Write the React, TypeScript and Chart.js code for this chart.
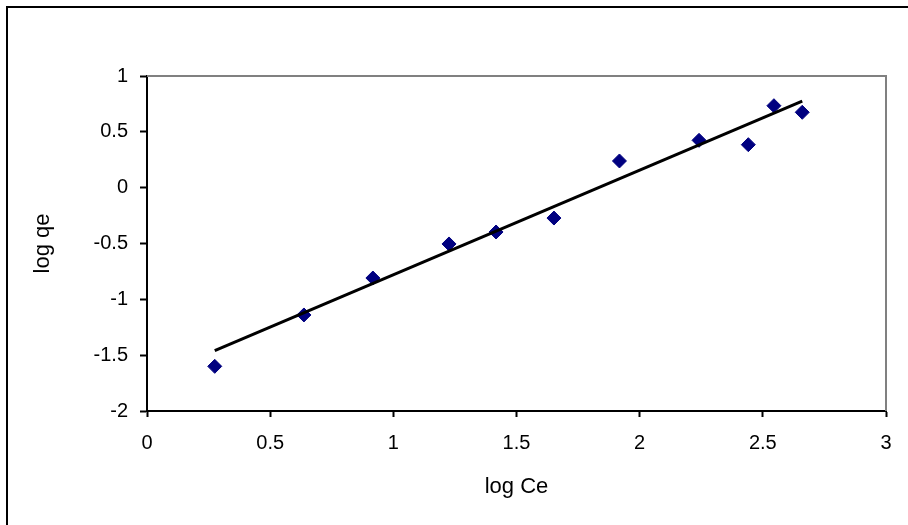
import React, { useEffect, useRef } from "react";
import { Chart, registerables } from "chart.js";

Chart.register(...registerables);

const logCe = [0.275, 0.637, 0.917, 1.226, 1.417, 1.652, 1.918, 2.241, 2.441, 2.545, 2.66];
const logQe = [-1.6, -1.14, -0.809, -0.504, -0.397, -0.272, 0.239, 0.424, 0.385, 0.734, 0.675];
const trendX = [0.275, 2.66];
const trendY = [-1.46, 0.775];
const xTitle = "log Ce";
const yTitle = "log qe";

const FONT = "'Liberation Sans', Arial, sans-serif";

const framePlugin = {
  id: "frame",
  beforeDatasetsDraw(chart: any) {
    const { ctx, chartArea } = chart;
    ctx.save();
    ctx.strokeStyle = "#808080";
    ctx.lineWidth = 2;
    ctx.beginPath();
    ctx.moveTo(chartArea.left, chartArea.top);
    ctx.lineTo(chartArea.right, chartArea.top);
    ctx.lineTo(chartArea.right, chartArea.bottom);
    ctx.stroke();
    ctx.restore();
  },
};

export default function App() {
  const ref = useRef<HTMLCanvasElement>(null);
  useEffect(() => {
    document.body.style.margin = "0";
    const chart = new Chart(ref.current!, {
      type: "scatter",
      data: {
        datasets: [
          {
            label: "data",
            data: logCe.map((x, i) => ({ x, y: logQe[i] })),
            pointStyle: "rectRot",
            pointRadius: 7,
            pointBackgroundColor: "#000080",
            pointBorderColor: "#000080",
            pointBorderWidth: 1,
            order: 1,
          },
          {
            label: "trend",
            type: "line",
            data: trendX.map((x, i) => ({ x, y: trendY[i] })),
            borderColor: "#000000",
            borderWidth: 3,
            pointRadius: 0,
            showLine: true,
            fill: false,
            order: 0,
          } as any,
        ],
      },
      options: {
        responsive: false,
        animation: false,
        layout: { padding: { top: 76, right: 22, left: 0, bottom: 0 } },
        plugins: { legend: { display: false }, tooltip: { enabled: false } },
        scales: {
          x: {
            type: "linear",
            min: 0,
            max: 3,
            afterFit: (s: any) => { s.height = 114; },
            ticks: {
              stepSize: 0.5,
              color: "#000",
              padding: 14,
              font: { family: FONT, size: 20 },
              callback: (v: any) => String(v),
            },
            grid: { drawOnChartArea: false, drawTicks: true, tickLength: 6, tickColor: "#000", tickWidth: 2 },
            border: { color: "#000", width: 2 },
            title: { display: true, text: xTitle, color: "#000", font: { family: FONT, size: 22 }, padding: { bottom: 25 } },
          },
          y: {
            type: "linear",
            min: -2,
            max: 1,
            afterFit: (s: any) => { s.width = 147; },
            ticks: {
              stepSize: 0.5,
              color: "#000",
              padding: 12,
              font: { family: FONT, size: 20 },
              callback: (v: any) => String(v),
            },
            grid: { drawOnChartArea: false, drawTicks: true, tickLength: 7, tickColor: "#000", tickWidth: 2 },
            border: { color: "#000", width: 2 },
            title: { display: true, text: yTitle, color: "#000", font: { family: FONT, size: 22 }, padding: { top: 30 } },
          },
        },
      },
      plugins: [framePlugin],
    });
    return () => chart.destroy();
  }, []);
  return (
    <div style={{ position: "relative", width: 908, height: 525, overflow: "hidden", background: "#fff" }}>
      <canvas ref={ref} width={908} height={525} style={{ display: "block" }} />
      <div
        style={{
          position: "absolute",
          left: 6,
          top: 6,
          width: 1000,
          height: 1000,
          borderTop: "2px solid #000",
          borderLeft: "2px solid #000",
          pointerEvents: "none",
        }}
      />
    </div>
  );
}
